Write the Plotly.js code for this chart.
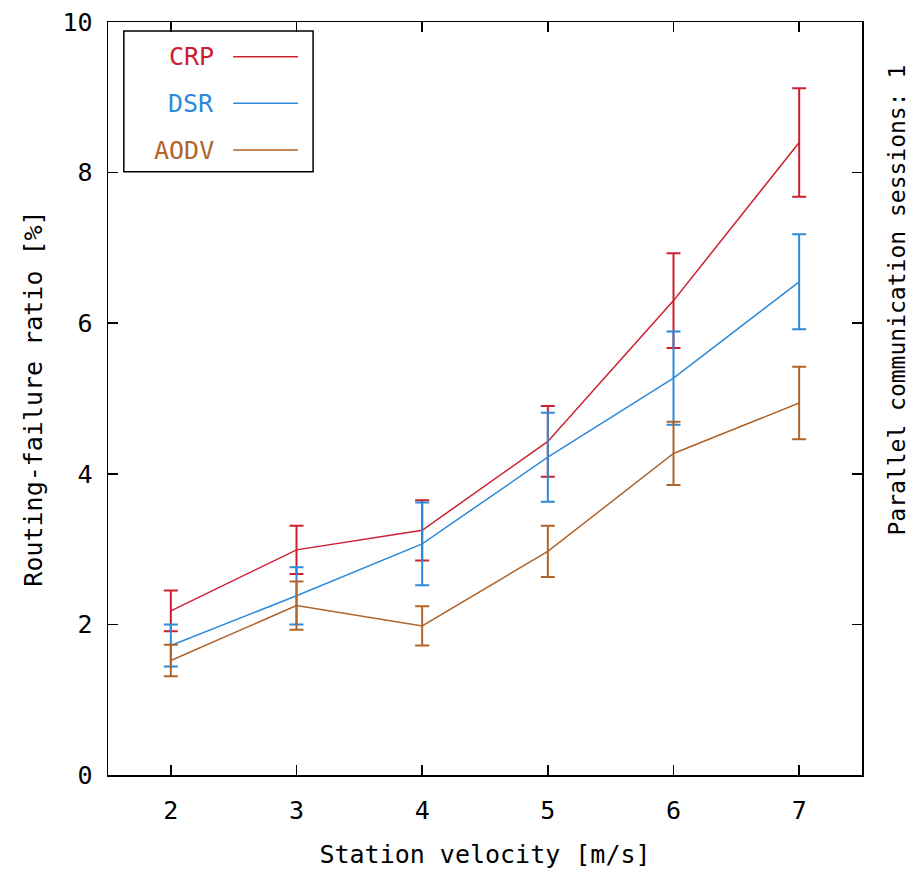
<!DOCTYPE html>
<html>
<head>
<meta charset="utf-8">
<script src="https://cdn.plot.ly/plotly-3.0.1.min.js"></script>
<style>body{margin:0;padding:0;background:#fff}#chart{width:913px;height:874px}</style>
</head>
<body>
<div id="chart"></div>
<script>
const velocities = [2, 3, 4, 5, 6, 7];
const seriesNames = ["CRP", "DSR", "AODV"];
const crpValues = [2.18, 2.99, 3.25, 4.43, 6.30, 8.40];
const crpErrors = [0.27, 0.32, 0.40, 0.47, 0.63, 0.72];
const dsrValues = [1.72, 2.38, 3.07, 4.22, 5.27, 6.55];
const dsrErrors = [0.28, 0.38, 0.55, 0.59, 0.62, 0.63];
const aodvValues = [1.52, 2.25, 1.98, 2.97, 4.27, 4.94];
const aodvErrors = [0.21, 0.32, 0.26, 0.34, 0.42, 0.48];
const seriesColors = ["#cc2030", "#2e8ad8", "#b0642a"];

const FONT = "DejaVu Sans Mono, Liberation Mono, monospace";
const FS = 25;
const values = [crpValues, dsrValues, aodvValues];
const errors = [crpErrors, dsrErrors, aodvErrors];

const traces = seriesNames.map((name, i) => ({
  type: "scatter",
  mode: "lines",
  name: name,
  x: velocities,
  y: values[i],
  line: {color: seriesColors[i], width: 1.5},
  error_y: {type: "data", array: errors[i], visible: true, color: seriesColors[i], thickness: 2, width: 7},
  showlegend: false
}));

// custom gnuplot-style legend (text then line sample)
const legendRows = [0.954, 0.892, 0.830];
const shapes = [{type: "rect", xref: "paper", yref: "paper", x0: 0.021, x1: 0.272, y0: 0.801, y1: 0.988,
  line: {color: "#000", width: 1.5}, fillcolor: "rgba(255,255,255,0)"}];
const annotations = [];
seriesNames.forEach((name, i) => {
  shapes.push({type: "line", xref: "paper", yref: "paper", x0: 0.166, x1: 0.252, y0: legendRows[i], y1: legendRows[i],
    line: {color: seriesColors[i], width: 1.5}});
  annotations.push({xref: "paper", yref: "paper", x: 0.143, y: legendRows[i], xanchor: "right", yanchor: "middle",
    text: name, showarrow: false, font: {family: FONT, size: FS, color: seriesColors[i]}});
});
annotations.push({xref: "paper", yref: "paper", x: 1.046, y: 0.631, xanchor: "center", yanchor: "middle",
  textangle: -90, text: "Parallel communication sessions: 1", showarrow: false,
  font: {family: FONT, size: 23, color: "#000"}});

const layout = {
  width: 913, height: 874,
  margin: {l: 108, r: 51, t: 22, b: 99},
  paper_bgcolor: "#fff", plot_bgcolor: "#fff",
  font: {family: FONT, size: FS, color: "#000"},
  xaxis: {
    range: [1.5, 7.5], tickvals: velocities, ticktext: velocities.map(String),
    ticks: "inside", ticklen: 10, tickwidth: 1.5, tickcolor: "#000",
    showline: true, linecolor: "#000", linewidth: 1.5, mirror: "ticks",
    showgrid: false, zeroline: false,
    tickfont: {family: FONT, size: FS}, ticklabelstandoff: 12,
    title: {text: "Station velocity [m/s]", font: {family: FONT, size: FS}, standoff: 22}
  },
  yaxis: {
    range: [0, 10], tickvals: [0, 2, 4, 6, 8, 10],
    ticks: "inside", ticklen: 10, tickwidth: 1.5, tickcolor: "#000",
    showline: true, linecolor: "#000", linewidth: 1.5, mirror: "ticks",
    showgrid: false, zeroline: false,
    tickfont: {family: FONT, size: FS}, ticklabelstandoff: 9,
    title: {text: "Routing-failure ratio [%]", font: {family: FONT, size: FS}, standoff: 12}
  },
  shapes: shapes,
  annotations: annotations,
  showlegend: false
};

Plotly.newPlot("chart", traces, layout, {displayModeBar: false, staticPlot: true});
</script>
</body>
</html>
